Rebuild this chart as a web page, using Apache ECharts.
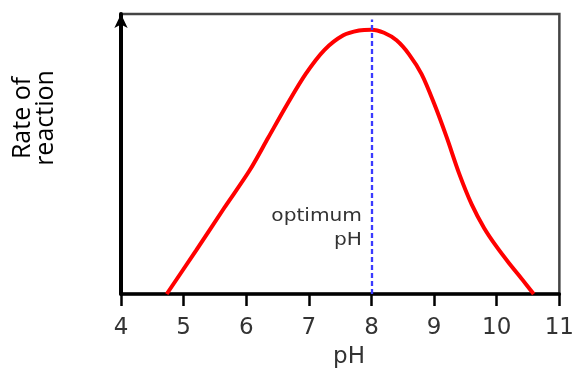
<!DOCTYPE html>
<html>
<head>
<meta charset="utf-8">
<script src="https://cdn.jsdelivr.net/npm/echarts@6/dist/echarts.min.js"></script>
<style>html,body{margin:0;padding:0;background:#fff}#c{width:577px;height:369px}</style>
</head>
<body>
<div id="c"></div>
<script>
// pH values along the curve
var phValues = [4.73, 5.2, 5.65, 6.05, 6.35, 6.65, 6.95, 7.25, 7.55, 7.8, 8.0, 8.2, 8.4, 8.6, 8.8, 9.0, 9.2, 9.4, 9.6, 9.8, 10.0, 10.2, 10.4, 10.59];
// rate of reaction (relative, 0-100)
var rateValues = [0, 15.6, 30.8, 44.0, 55.8, 67.6, 78.6, 87.2, 92.4, 94.1, 94.4, 93.3, 90.6, 85.6, 78.5, 68.0, 56.0, 43.0, 32.0, 23.5, 16.8, 10.9, 5.4, 0];
var optimumPH = 8;
var optimumLineTop = 98;
var xTickLabels = ['4','5','6','7','8','9','10','11'];

var curve = phValues.map(function(x, i){ return [x, rateValues[i]]; });

var chart = echarts.init(document.getElementById('c'), null, {renderer:'canvas'});
chart.setOption({
  animation: false,
  grid: {left:121, right:16, top:14, bottom:75, show:true, borderColor:'#444', borderWidth:2.5, backgroundColor:'transparent'},
  xAxis: {
    type:'value', min:4, max:11, interval:1,
    axisLine:{show:true, onZero:false, lineStyle:{color:'#000', width:3.5}},
    axisTick:{show:true, length:12, lineStyle:{color:'#000', width:2.5}},
    axisLabel:{margin:23, color:'#333', fontSize:23, fontFamily:'DejaVu Sans',
      formatter:function(v){ var i = Math.round(v-4); return xTickLabels[i] || ''; }},
    splitLine:{show:false}
  },
  yAxis: {
    type:'value', min:0, max:100,
    axisLine:{show:true, onZero:false, symbol:['none','arrow'], symbolSize:[10,14], lineStyle:{color:'#000', width:4}},
    axisTick:{show:false}, axisLabel:{show:false}, splitLine:{show:false}
  },
  series: [{
    type:'line', data: curve, smooth:0.3, showSymbol:false,
    lineStyle:{color:'#ff0000', width:4},
    markLine:{
      silent:true, symbol:['none','none'], label:{show:false},
      lineStyle:{color:'#3a3aff', width:2.3, type:[5,3]},
      data:[[{coord:[optimumPH,0]},{coord:[optimumPH,optimumLineTop]}]]
    }
  }],
  graphic: [
    {type:'text', x:34, y:118, rotation:Math.PI/2,
     style:{text:'Rate of\nreaction', fill:'#000', font:'25px "Open Sans"', align:'center', verticalAlign:'middle', lineHeight:23}},
    {type:'text', x:349, y:357,
     style:{text:'pH', fill:'#333', font:'23px "DejaVu Sans"', align:'center', verticalAlign:'middle'}},
    {type:'text', x:362, y:216, scaleX:1.12,
     style:{text:'optimum', fill:'#333', font:'18px "DejaVu Sans"', align:'right', verticalAlign:'middle'}},
    {type:'text', x:362, y:240, scaleX:1.12,
     style:{text:'pH', fill:'#333', font:'18px "DejaVu Sans"', align:'right', verticalAlign:'middle'}}
  ]
});
</script>
</body>
</html>
